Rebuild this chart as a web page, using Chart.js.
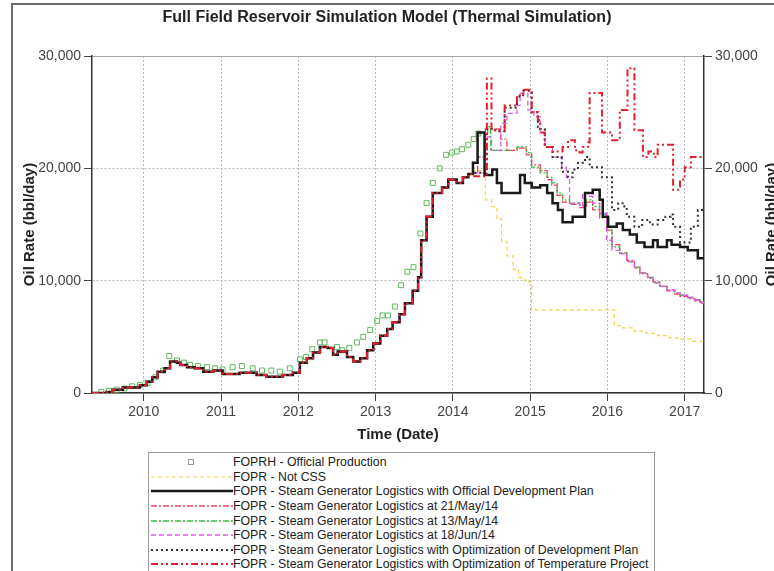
<!DOCTYPE html>
<html>
<head>
<meta charset="utf-8">
<script src="https://cdn.jsdelivr.net/npm/chart.js@4.4.1/dist/chart.umd.min.js"></script>
<style>
  html, body { margin: 0; padding: 0; background: #fff; }
  #wrap { position: relative; width: 774px; height: 571px; overflow: hidden; }
  #legend { position: absolute; left: 148px; top: 452px; width: 507px; height: 130px; border: 1px solid #9a9a9a;
            font: 12.3px "Liberation Sans", Arial, sans-serif; color: #222; padding-top: 2px; box-sizing: border-box; background: #fff; }
  .row { height: 14.6px; display: flex; align-items: center; white-space: nowrap; }
  .row svg { width: 84px; height: 10px; flex: none; }
</style>
</head>
<body>
<div id="wrap">
  <canvas id="chart" width="774" height="571"></canvas>
  <div id="legend"></div>
</div>
<script>
// axis ticks
const yearTicks = [2010, 2011, 2012, 2013, 2014, 2015, 2016, 2017];
const rateTicks = [0, 10000, 20000, 30000];
const xMin = 2009.33;
const xMax = 2017.25;

const seriesNames = [
  'FOPRH - Official Production',
  'FOPR - Not CSS',
  'FOPR - Steam Generator Logistics with Official Development Plan',
  'FOPR - Steam Generator Logistics at 21/May/14',
  'FOPR - Steam Generator Logistics at 13/May/14',
  'FOPR - Steam Generator Logistics at 18/Jun/14',
  'FOPR - Steam Generator Logistics with Optimization of Development Plan',
  'FOPR - Steam Generator Logistics with Optimization of Temperature Project'
];

// official production (bbl/day)
const offT = [2009.45, 2009.55, 2009.65, 2009.75, 2009.85, 2009.95,
  2010.05, 2010.15, 2010.25, 2010.33, 2010.43, 2010.52, 2010.60, 2010.70, 2010.82, 2010.92,
  2011.02, 2011.15, 2011.27, 2011.41, 2011.53, 2011.65, 2011.76, 2011.89,
  2012.02, 2012.10, 2012.18, 2012.28, 2012.34, 2012.50, 2012.57, 2012.66, 2012.76, 2012.84, 2012.93,
  2013.02, 2013.09, 2013.16, 2013.25, 2013.33, 2013.41, 2013.49, 2013.58, 2013.66, 2013.74, 2013.83, 2013.91, 2013.99,
  2014.05, 2014.12, 2014.20, 2014.27, 2014.33];
const offV = [100, 200, 300, 400, 600, 700,
  900, 1400, 2000, 3300, 2900, 2700, 2500, 2400, 2300, 2200,
  2100, 2300, 2400, 2200, 2000, 2000, 1900, 2200,
  3000, 3200, 3900, 4500, 4500, 4100, 3800, 4000, 4500, 5000, 5600,
  6400, 6900, 6900, 7700, 9600, 10800, 11200, 14200, 16900, 18700, 20000, 21200, 21400,
  21500, 21700, 22100, 22600, 23100];

// simulated history shared by all runs
const histT = [2009.33, 2009.43, 2009.52, 2009.60, 2009.73, 2009.86, 2009.95,
  2010.04, 2010.11, 2010.18, 2010.27, 2010.34, 2010.43, 2010.47, 2010.56, 2010.66, 2010.77, 2010.90,
  2011.02, 2011.14, 2011.24, 2011.37, 2011.46, 2011.59, 2011.72, 2011.80, 2011.93,
  2012.02, 2012.11, 2012.19, 2012.28, 2012.38, 2012.45, 2012.51, 2012.63, 2012.71, 2012.80, 2012.89, 2012.97,
  2013.06, 2013.15, 2013.22, 2013.31, 2013.38, 2013.48, 2013.55, 2013.59, 2013.66, 2013.74, 2013.86, 2013.94,
  2014.05, 2014.13, 2014.20];
const histV = [0, 0, 100, 300, 500, 500, 700,
  1000, 1400, 1900, 2200, 2800, 2700, 2500, 2300, 2200, 1900, 2000,
  1700, 1700, 1800, 1800, 1600, 1450, 1450, 1600, 1800,
  2700, 3100, 3600, 4100, 4000, 3400, 3700, 3200, 2800, 3100, 3800, 4400,
  5100, 5700, 6300, 7000, 8000, 9100, 10300, 13600, 15700, 17800, 18300, 19000,
  18700, 19200, 19500];

// forecasts
const notCssT = [2014.26, 2014.42, 2014.50, 2014.57, 2014.63, 2014.70, 2014.78, 2014.85, 2014.93,
  2015.02, 2016.09, 2016.20, 2016.35, 2016.50, 2016.65, 2016.80, 2016.95, 2017.10, 2017.25];
const notCssV = [19800, 17200, 16600, 15500, 13500, 12200, 11000, 10300, 9900,
  7400, 6000, 5800, 5500, 5300, 5100, 4900, 4800, 4600, 4500];

const devPlanT = [2014.26, 2014.32, 2014.41, 2014.51, 2014.57, 2014.63, 2014.87, 2014.93,
  2015.02, 2015.13, 2015.22, 2015.29, 2015.36, 2015.42, 2015.55, 2015.71, 2015.81, 2015.90, 2015.94,
  2016.01, 2016.12, 2016.20, 2016.29, 2016.38, 2016.48, 2016.59, 2016.65, 2016.77, 2016.83, 2016.94,
  2017.04, 2017.17, 2017.25];
const devPlanV = [20500, 23200, 19400, 19900, 18700, 17800, 19400, 18700,
  18300, 18500, 17800, 16900, 16300, 15200, 15700, 17800, 18100, 17200, 15700,
  14800, 15100, 14500, 14100, 13400, 13000, 13600, 13000, 13600, 13200, 13000,
  12700, 12000, 12000];

const may21T = [2014.26, 2014.32, 2014.42, 2014.62, 2014.70, 2014.83, 2014.95,
  2015.02, 2015.13, 2015.22, 2015.28, 2015.35, 2015.42, 2015.51, 2015.64, 2015.73, 2015.81, 2015.90, 2015.99,
  2016.06, 2016.16, 2016.25, 2016.35, 2016.42, 2016.52, 2016.59, 2016.68, 2016.77, 2016.87, 2016.94,
  2017.04, 2017.13, 2017.20, 2017.25];
const may21V = [19600, 21000, 23500, 22600, 21600, 21800, 21200,
  20300, 19800, 19000, 18500, 17600, 17000, 16800, 16500, 17000, 16300, 15600, 14500,
  13200, 12400, 11800, 11100, 10600, 10200, 9900, 9500, 9100, 8800, 8600,
  8400, 8200, 8000, 7900];

const may13T = [2014.26, 2014.32, 2014.45, 2014.49, 2014.83, 2014.95,
  2015.02, 2015.13, 2015.22, 2015.28, 2015.35, 2015.42, 2015.51, 2015.64, 2015.73, 2015.81, 2015.90, 2015.99,
  2016.06, 2016.16, 2016.25, 2016.35, 2016.42, 2016.52, 2016.59, 2016.68, 2016.77, 2016.87, 2016.94,
  2017.04, 2017.13, 2017.20, 2017.25];
const may13V = [20500, 23100, 23700, 21600, 21900, 21400,
  20100, 19600, 19200, 18700, 17800, 17200, 16900, 16700, 17200, 16600, 15900, 14800,
  13000, 12500, 11700, 11200, 10700, 10300, 9800, 9500, 9200, 8900, 8700,
  8500, 8300, 8100, 8000];

const jun18T = [2014.26, 2014.41, 2014.50, 2014.62, 2014.70, 2014.83, 2014.87, 2014.97,
  2015.05, 2015.13, 2015.19, 2015.29, 2015.41, 2015.47, 2015.51, 2015.64, 2015.68, 2015.77, 2015.81, 2015.90, 2015.99,
  2016.06, 2016.16, 2016.25, 2016.35, 2016.42, 2016.52, 2016.59, 2016.68, 2016.77, 2016.87, 2016.94,
  2017.04, 2017.13, 2017.20, 2017.25];
const jun18V = [19600, 22800, 21600, 24000, 24900, 25600, 26700, 25200,
  24600, 23100, 21900, 21000, 20100, 19200, 16900, 16600, 17800, 17500, 16900, 16000, 13600,
  12700, 12400, 11700, 11200, 10700, 10300, 9800, 9500, 9200, 8900, 8700,
  8500, 8300, 8100, 8000];

const optDevT = [2014.26, 2014.44, 2014.55, 2014.67, 2014.83, 2014.91,
  2015.02, 2015.10, 2015.19, 2015.29, 2015.41, 2015.49, 2015.55, 2015.62, 2015.71, 2015.77, 2015.93,
  2016.06, 2016.14, 2016.22, 2016.25, 2016.35, 2016.45, 2016.55, 2016.65, 2016.75, 2016.82, 2016.85, 2016.94,
  2017.08, 2017.17, 2017.25];
const optDevV = [19600, 23500, 23300, 25400, 26400, 26900,
  25000, 23500, 21900, 21000, 19700, 19200, 19900, 20500, 21000, 20100, 19200,
  16300, 16900, 16600, 15700, 14800, 15400, 15000, 15400, 15700, 15900, 14800, 13400,
  14800, 16300, 16300];

const optTempT = [2014.26, 2014.44, 2014.50, 2014.67, 2014.83, 2014.91,
  2015.02, 2015.10, 2015.13, 2015.19, 2015.29, 2015.42, 2015.49, 2015.58, 2015.64, 2015.68, 2015.75, 2015.77, 2015.93,
  2016.06, 2016.16, 2016.26, 2016.35, 2016.46, 2016.53, 2016.60, 2016.65, 2016.85, 2016.94,
  2017.00, 2017.08, 2017.25];
const optTempV = [19300, 28000, 23400, 25600, 26500, 27000,
  25000, 24300, 23200, 21900, 21500, 21900, 22500, 21600, 21400, 21900, 22300, 26700, 23200,
  22500, 25200, 28900, 23400, 21000, 21500, 21000, 22100, 18100, 19000,
  20100, 21000, 21000];

function pts(ts, vs) {
  return ts.map((t, i) => ({ x: t, y: vs[i] }));
}
function sim(ts, vs) {
  return pts(histT.concat(ts), histV.concat(vs));
}

// looks, in legend order
const seriesStyles = [
  { color: '#5fb95f', points: true, order: 8 },
  { color: '#f1d54a', width: 1.2, dash: [4, 3], order: 7 },
  { color: '#1a1a1a', width: 2.5, dash: [], order: 2 },
  { color: '#ee4462', width: 1.3, dash: [6, 2, 2, 2], order: 5 },
  { color: '#3cba3c', width: 1.3, dash: [6, 2, 2, 2], order: 6 },
  { color: '#d65ce6', width: 1.3, dash: [5, 3], order: 4 },
  { color: '#333333', width: 2, dash: [2, 3], order: 3 },
  { color: '#e3202b', width: 2, dash: [7, 3, 2, 3, 2, 3], order: 1 }
];

const seriesData = [
  pts(offT, offV),
  sim(notCssT, notCssV),
  sim(devPlanT, devPlanV),
  sim(may21T, may21V),
  sim(may13T, may13V),
  sim(jun18T, jun18V),
  sim(optDevT, optDevV),
  sim(optTempT, optTempV)
];

const datasets = seriesData.map((d, i) => {
  const s = seriesStyles[i];
  if (s.points) {
    return {
      label: seriesNames[i], data: d, showLine: false, order: s.order,
      pointStyle: 'rect', pointRadius: 3.5, pointBorderWidth: 1,
      pointBorderColor: s.color, pointBackgroundColor: 'rgba(0,0,0,0)'
    };
  }
  return {
    label: seriesNames[i], data: d, order: s.order, stepped: true,
    borderColor: s.color, borderWidth: s.width, borderDash: s.dash,
    pointRadius: 0, fill: false
  };
});

const tickFont = { family: '"Liberation Sans", Arial, sans-serif', size: 14 };
const axisTitleFont = { family: '"Liberation Sans", Arial, sans-serif', size: 15, weight: 'bold' };
const titleFont = { family: '"Liberation Sans", Arial, sans-serif', size: 16, weight: 'bold' };

const decor = {
  id: 'decor',
  beforeDraw(chart) {
    const c = chart.ctx;
    c.save();
    c.strokeStyle = '#6b6b6b';
    c.lineWidth = 2;
    c.beginPath();
    c.moveTo(12, 600); c.lineTo(12, 4); c.lineTo(800, 4);
    c.stroke();
    c.restore();
  },
  afterDraw(chart) {
    const c = chart.ctx, a = chart.chartArea;
    c.save();
    c.translate(772, (a.top + a.bottom) / 2);
    c.rotate(-Math.PI / 2);
    c.font = 'bold 15px "Liberation Sans", Arial, sans-serif';
    c.fillStyle = '#222';
    c.textAlign = 'center';
    c.textBaseline = 'middle';
    c.fillText('Oil Rate (bbl/day)', 0, 0);
    c.restore();
  }
};

const gridDash = ctx => (ctx.tick && ctx.tick.value === 30000 ? [] : [2, 2]);

new Chart(document.getElementById('chart'), {
  type: 'line',
  data: { datasets },
  plugins: [decor],
  options: {
    responsive: false,
    animation: false,
    events: [],
    layout: { padding: { left: 0, right: 0, top: 0, bottom: 123 } },
    plugins: {
      legend: { display: false },
      tooltip: { enabled: false },
      title: {
        display: true,
        text: 'Full Field Reservoir Simulation Model (Thermal Simulation)',
        font: titleFont, color: '#222',
        padding: { top: 8.4, bottom: 28.4 }
      }
    },
    scales: {
      x: {
        type: 'linear', min: xMin, max: xMax,
        afterBuildTicks: s => { s.ticks = yearTicks.map(v => ({ value: v })); },
        afterFit: s => { s.height = 55; },
        ticks: { callback: v => String(v), font: tickFont, color: '#444', padding: 3, maxRotation: 0, autoSkip: false },
        grid: { color: '#b8b8b8', tickColor: '#444', tickLength: 8 },
        border: { color: '#333', width: 1.5, dash: [2, 2] },
        title: { display: true, text: 'Time (Date)', font: axisTitleFont, color: '#222', padding: { top: 0, bottom: 4 } }
      },
      y: {
        position: 'left', min: 0, max: 30000,
        afterBuildTicks: s => { s.ticks = rateTicks.map(v => ({ value: v })); },
        afterFit: s => { s.width = 92; },
        ticks: { callback: v => v.toLocaleString('en-US'), font: tickFont, color: '#444', padding: 3 },
        grid: { color: ctx => (ctx.tick && ctx.tick.value === 30000 ? '#a8a8a8' : '#b8b8b8'), tickColor: '#444', tickLength: 8 },
        border: { color: '#333', width: 1.5, dash: gridDash },
        title: { display: true, text: 'Oil Rate (bbl/day)', font: axisTitleFont, color: '#222', padding: { top: 21, bottom: 0 } }
      },
      y2: {
        position: 'right', min: 0, max: 30000,
        afterBuildTicks: s => { s.ticks = rateTicks.map(v => ({ value: v })); },
        afterFit: s => { s.width = 70; },
        ticks: { callback: v => v.toLocaleString('en-US'), font: tickFont, color: '#444', padding: 3 },
        grid: { drawOnChartArea: false, tickColor: '#444', tickLength: 8 },
        border: { color: '#333', width: 1.5 }
      }
    }
  }
});

// legend box
const legendEl = document.getElementById('legend');
seriesNames.forEach((name, i) => {
  const s = seriesStyles[i];
  const row = document.createElement('div');
  row.className = 'row';
  const mark = s.points
    ? `<rect x="39.5" y="2.5" width="5" height="5" fill="none" stroke="#9a9a9a" stroke-width="1"/>`
    : `<line x1="2" y1="5" x2="84" y2="5" stroke="${s.color}" stroke-width="${s.width}" stroke-dasharray="${s.dash.join(' ')}"/>`;
  row.innerHTML = `<svg viewBox="0 0 84 10">${mark}</svg><span>${name}</span>`;
  legendEl.appendChild(row);
});
</script>
</body>
</html>
